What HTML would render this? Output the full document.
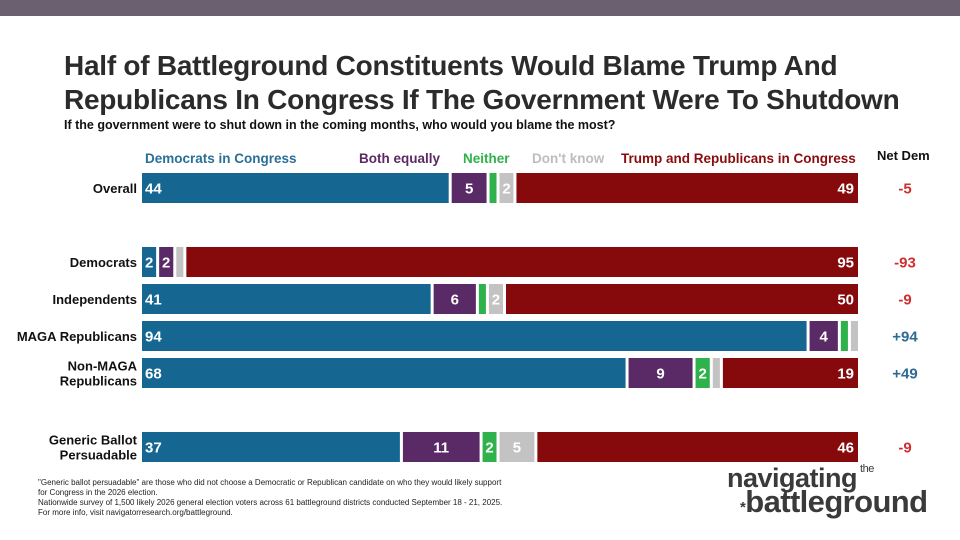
<!DOCTYPE html>
<html><head><meta charset="utf-8"><style>
body{margin:0;width:960px;height:540px;background:#fff;font-family:"Liberation Sans",sans-serif;overflow:hidden;position:relative}
.t{position:absolute;white-space:nowrap}
</style></head><body>
<div class="t" style="left:0;top:0;width:960px;height:16px;background:#6b6070"></div>
<div class="t" style="left:64px;top:49px;font-size:28px;font-weight:bold;color:#2b2b2b;line-height:34px;letter-spacing:-0.25px">Half of Battleground Constituents Would Blame Trump And<br>Republicans In Congress If The Government Were To Shutdown</div>
<div class="t" style="left:64px;top:118px;font-size:12.5px;font-weight:bold;color:#111">If the government were to shut down in the coming months, who would you blame the most?</div>
<div class="t" style="left:145px;top:151px;font-size:13.5px;font-weight:bold;color:#2a6f97">Democrats in Congress</div>
<div class="t" style="left:359px;top:151px;font-size:13.5px;font-weight:bold;color:#5a2a66">Both equally</div>
<div class="t" style="left:463px;top:151px;font-size:13.5px;font-weight:bold;color:#2fb24c">Neither</div>
<div class="t" style="left:532px;top:151px;font-size:13.5px;font-weight:bold;color:#bdbdbd">Don't know</div>
<div class="t" style="left:621px;top:151px;font-size:13.5px;font-weight:bold;color:#8a0c0e">Trump and Republicans in Congress</div>
<div class="t" style="left:877px;top:148px;font-size:13px;font-weight:bold;color:#111">Net Dem</div>
<svg id="chart" width="960" height="540" style="position:absolute;left:0;top:0"></svg>
<div class="t" style="left:38px;top:478px;font-size:8px;line-height:10px;color:#222">"Generic ballot persuadable" are those who did not choose a Democratic or Republican candidate on who they would likely support<br>for Congress in the 2026 election.<br>Nationwide survey of 1,500 likely 2026 general election voters across 61 battleground districts conducted September 18 - 21, 2025.<br>For more info, visit navigatorresearch.org/battleground.</div>
<div class="t" style="left:727px;top:463px;font-size:27px;font-weight:bold;color:#3a3a3a;letter-spacing:-0.5px">navigating<span style="font-size:11px;font-weight:normal;vertical-align:top;margin-left:3px">the</span></div>
<div class="t" style="left:740px;top:484px;font-size:31px;font-weight:bold;color:#3a3a3a;letter-spacing:-0.6px"><span style="font-size:15px">*</span>battleground</div>
<script>
const categories=["Overall","Democrats","Independents","MAGA Republicans","Non-MAGA|Republicans","Generic Ballot|Persuadable"];
const demValues=[44,2,41,94,68,37];
const bothValues=[5,2,6,4,9,11];
const neitherValues=[1,0,1,1,2,2];
const dkValues=[2,1,2,1,1,5];
const repValues=[49,95,50,0,19,46];
const netLabels=["-5","-93","-9","+94","+49","-9"];
const rowY=[173,247,284,321,358,432];
const colors=["#156791","#5a2a66","#2fb24c","#c3c3c3","#860a0b"];
const segNames=["democrats","both","neither","dont-know","trump"];
const svg=document.getElementById('chart');
const NS="http://www.w3.org/2000/svg";
const X0=142,X1=858,H=30,GAP=3;
function mk(t,a){const e=document.createElementNS(NS,t);for(const k in a)e.setAttribute(k,a[k]);svg.appendChild(e);return e;}
categories.forEach((c,i)=>{
  const vals=[demValues[i],bothValues[i],neitherValues[i],dkValues[i],repValues[i]];
  const nz=vals.filter(v=>v>0).length;
  const tot=vals.reduce((a,b)=>a+b,0);
  const scale=(X1-X0-GAP*(nz-1))/tot;
  let x=X0;const y=rowY[i];
  vals.forEach((v,j)=>{
    if(v<=0)return;
    const w=v*scale;
    const r=mk('rect',{x:x,y:y,width:w,height:H,fill:colors[j]});
    
    
    if(v>=2){
      let tx,anchor;
      if(j===0){tx=x+3;anchor='start';}else if(j===4){tx=x+w-4;anchor='end';}else{tx=x+w/2;anchor='middle';}
      const t=mk('text',{x:tx,y:y+H/2+5.5,'text-anchor':anchor,'font-size':15,'font-weight':'bold',fill:'#fff','font-family':'Liberation Sans, sans-serif'});
      t.textContent=v;
      
      
    }
    x+=w+GAP;
  });
  const lines=c.split('|');
  lines.forEach((ln,k)=>{
    const ty=y+H/2+5+(k-(lines.length-1)/2)*15;
    const t=mk('text',{x:137,y:ty,'text-anchor':'end','font-size':13,'font-weight':'bold',fill:'#111','font-family':'Liberation Sans, sans-serif'});
    t.textContent=ln;
    
    
  });
  const n=mk('text',{x:905,y:y+H/2+5.5,'text-anchor':'middle','font-size':15,'font-weight':'bold',fill:netLabels[i][0]==='+'?'#2d6a95':'#d12f2f','font-family':'Liberation Sans, sans-serif'});
  n.textContent=netLabels[i];
  
  
});
</script>
</body></html>
